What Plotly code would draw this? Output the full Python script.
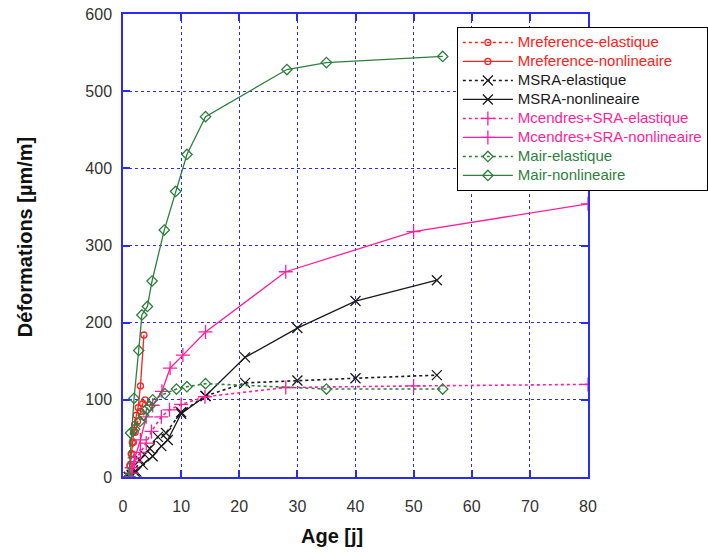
import plotly.graph_objects as go

# ---- data ----
ref_el_x = [1.0, 1.2, 1.5, 1.8, 2.1, 2.5, 3.0, 3.4, 3.8]
ref_el_y = [0, 15, 30, 45, 58, 72, 85, 95, 100]
ref_nl_x = [1.0, 1.2, 1.4, 1.6, 1.8, 2.0, 2.3, 2.6, 3.0, 3.6]
ref_nl_y = [0, 15, 30, 45, 58, 68, 80, 90, 118, 184]

msra_el_x = [1, 1.5, 2, 2.9, 3.7, 4.6, 6, 7.4, 10, 14.2, 21, 30, 40, 54]
msra_el_y = [0, 3, 7, 22, 29, 37, 52, 57, 84, 105, 122, 125, 128, 132]
msra_nl_x = [1, 1.5, 2.3, 3.4, 5.1, 6.6, 7.7, 10, 14.2, 21, 30, 40, 54]
msra_nl_y = [0, 2, 7, 16, 27, 40, 48, 82, 105, 155, 193, 228, 255]

cen_el_x = [1, 1.5, 2, 3, 4, 4.9, 6.6, 8, 10, 14.1, 28, 50, 80]
cen_el_y = [0, 5, 20, 32, 44, 59, 78, 87, 94, 104, 116, 118, 120]
cen_nl_x = [1, 1.5, 2, 3, 4, 5.1, 6.7, 8.1, 10.3, 14.2, 28, 50, 80]
cen_nl_y = [0, 12, 25, 48, 78, 93, 111, 141, 158, 188, 266, 318, 354]

air_el_x = [1, 1.3, 2, 2.9, 3.5, 4.1, 4.6, 5.1, 7.2, 9.2, 11, 14.2, 35, 55]
air_el_y = [0, 57, 62, 72, 80, 88, 92, 100, 108, 114, 117, 121, 114, 114]
air_nl_x = [1, 1.9, 2.7, 3.25, 4.2, 5.0, 7.1, 9.05, 11, 14.2, 28.2, 35, 55]
air_nl_y = [0, 102, 164, 210, 221, 254, 320, 370, 418, 467, 528, 537, 545]

names = ["Mreference-elastique", "Mreference-nonlineaire",
         "MSRA-elastique", "MSRA-nonlineaire",
         "Mcendres+SRA-elastique", "Mcendres+SRA-nonlineaire",
         "Mair-elastique", "Mair-nonlineaire"]

RED = "#ff2020"
BLACK = "#1a1a1a"
PINK = "#ff1e9b"
GREEN = "#2e7f3e"
BLUE = "#2a2aff"

series = [
    (ref_el_x, ref_el_y, RED, "dot", "circle-open", 6),
    (ref_nl_x, ref_nl_y, RED, "solid", "circle-open", 6),
    (msra_el_x, msra_el_y, BLACK, "dot", "x-thin-open", 10),
    (msra_nl_x, msra_nl_y, BLACK, "solid", "x-thin-open", 10),
    (cen_el_x, cen_el_y, PINK, "dot", "cross-thin-open", 10),
    (cen_nl_x, cen_nl_y, PINK, "solid", "cross-thin-open", 10),
    (air_el_x, air_el_y, GREEN, "dot", "diamond-open", 8),
    (air_nl_x, air_nl_y, GREEN, "solid", "diamond-open", 8),
]

fig = go.Figure()
for name, (xs, ys, col, dash, sym, size) in zip(names, series):
    fig.add_trace(go.Scatter(
        x=xs, y=ys, mode="lines+markers",
        name=f"<span style='color:{col};font-size:15px'>{name}</span>",
        line=dict(color=col, width=1.3 if dash == "solid" else 1.6, dash=dash),
        marker=dict(symbol=sym, size=size, color=col, line=dict(color=col, width=1.3)),
    ))

axis_common = dict(
    showgrid=True, gridcolor=BLUE, griddash="dot", gridwidth=1,
    showline=True, linecolor=BLUE, linewidth=1.5, mirror="ticks",
    ticks="inside", ticklen=7, tickcolor=BLUE, tickwidth=1.5,
    zeroline=False, ticklabeloverflow="allow",
    tickfont=dict(family="Liberation Sans, Arial", size=16, color="#333333"),
)

fig.update_xaxes(range=[0, 80], dtick=10, ticklabelstandoff=14, **axis_common)
fig.update_yaxes(range=[0, 600], dtick=100, ticklabelstandoff=6, **axis_common)

# page body margin is removed in post_script, so margins are absolute
ML, MR, MT, MB = 123, 120, 14, 75
PH = 552 - MT - MB
PW = 708 - ML - MR

LEG_X, LEG_Y = 0.718, 0.972
LEG_H = 161  # approx legend height in px (for the drop shadow)

fig.update_layout(
    width=708, height=552,
    margin=dict(l=ML, r=MR, t=MT, b=MB, autoexpand=False),
    paper_bgcolor="white", plot_bgcolor="white",
    font=dict(family="Liberation Sans, Arial", size=16, color="#222"),
    showlegend=True,
    legend=dict(
        x=LEG_X, y=LEG_Y, xanchor="left", yanchor="top",
        bgcolor="white", bordercolor="black", borderwidth=1,
        font=dict(family="Liberation Sans, Arial", size=11),
        tracegroupgap=0, itemwidth=50,
    ),
    shapes=[
        dict(type="rect", xref="paper", yref="paper", layer="above",
             x0=LEG_X + 3 / PW, x1=1.4,
             y0=LEG_Y - (LEG_H + 3) / PH, y1=LEG_Y - 3 / PH,
             fillcolor="#333333", line=dict(width=0)),
    ],
    annotations=[
        dict(text="<b>Déformations [µm/m]</b>", textangle=-90,
             x=(25 - ML) / PW, y=0.518, xref="paper", yref="paper",
             xanchor="center", yanchor="middle",
             showarrow=False, font=dict(size=20, color="#111")),
        dict(text="<b>Age [j]</b>",
             x=(332 - ML) / PW, y=-59 / PH, xref="paper", yref="paper",
             xanchor="center", yanchor="middle",
             showarrow=False, font=dict(size=20, color="#111")),
    ],
)

fig.write_html("out.html", config={"displayModeBar": False},
               post_script="document.body.style.margin='0';")
